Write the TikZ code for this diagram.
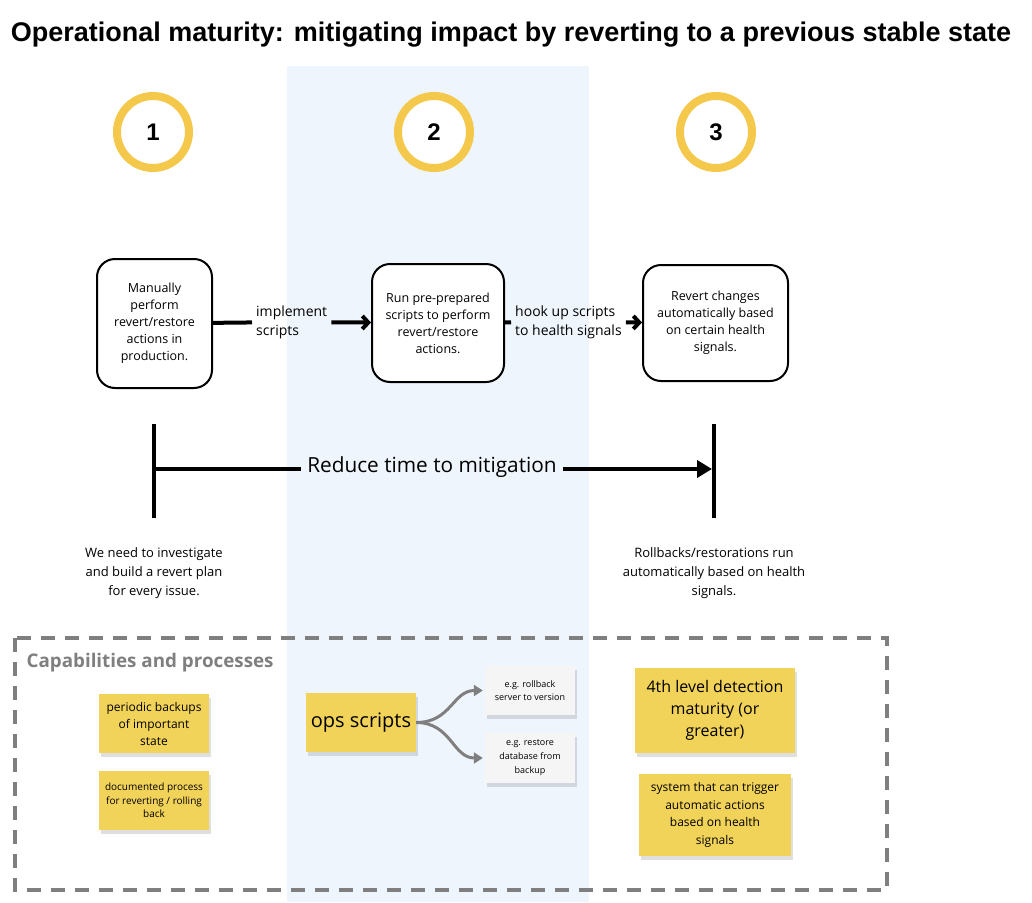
\documentclass[tikz,border=0pt]{standalone}
\usepackage{fontspec}
\setmainfont{Open Sans}
\newfontfamily\headfont{Liberation Sans}
\usetikzlibrary{arrows.meta,shadows}
\definecolor{bandblue}{HTML}{EEF5FD}
\definecolor{ringyellow}{HTML}{F4C84A}
\definecolor{noteyellow}{HTML}{F2D35A}
\definecolor{notegrey}{HTML}{F5F5F5}
\definecolor{framegrey}{HTML}{7F7F7F}
\tikzset{
	stage/.style = {draw=black, line width=2pt, rounded corners=18pt, fill=white,
		align=center, inner sep=0pt, font=\fontsize{12.5}{17}\selectfont},% rounded step box
	stepnum/.style = {circle, draw=ringyellow, line width=8pt, fill=white,
		minimum size=72pt, inner sep=0pt, font=\headfont\bfseries\fontsize{24}{24}\selectfont},
	lbl/.style = {align=left, inner sep=4pt, font=\fontsize{14}{19}\selectfont},
	conn/.style = {line width=4pt},
	chev/.style = {-{Straight Barb[length=6pt,width=13pt]}},
	note/.style = {fill=noteyellow, align=center, inner sep=0pt,
		drop shadow={shadow xshift=2pt, shadow yshift=-4pt, opacity=0.25}},% sticky note
	gnote/.style = {note, fill=notegrey},
	branch/.style = {draw=framegrey, line width=3pt, -{Triangle[length=9pt,width=11pt]}}
}
\begin{document}
\begin{tikzpicture}[x=1pt, y=-1pt]
	\useasboundingbox (0,0) rectangle (1032,902);
	\fill[bandblue] (287,66) rectangle (589,902);
	% title
	\node (title) at (511,35) {\headfont\bfseries\fontsize{27}{30}\selectfont Operational maturity: mitigating impact by reverting to a previous stable state};
	% steps
	\node [stepnum] (n1) at (153,132) {1};
	\node [stepnum] (n2) at (434,132) {2};
	\node [stepnum] (n3) at (716,132) {3};
	\node [stage, minimum width=115pt, minimum height=129pt] (st1) at (154.5,323.5)
		{Manually\\perform\\revert/restore\\actions in\\production.};
	\node [stage, minimum width=132pt, minimum height=118pt] (st2) at (438,323)
		{Run pre-prepared\\scripts to perform\\revert/restore\\actions.};
	\node [stage, minimum width=145pt, minimum height=116pt] (st3) at (715.5,323)
		{Revert changes\\automatically based\\on certain health\\signals.};
	\node [lbl, anchor=west] (impl) at (252,322) {implement\\scripts};
	\node [lbl, anchor=west] (hook) at (511,322) {hook up scripts\\to health signals};
	\draw [conn] (st1) -- (impl);
	\draw [conn, chev] (impl) -- (st2);
	\draw [conn] (st2) -- (hook);
	\draw [conn, chev] (hook) -- (st3);
	% timeline
	\draw [conn] (154,424) -- (154,518);
	\draw [conn] (714,424) -- (714,518);
	\coordinate (tA) at (154,469);
	\coordinate (tB) at (712,469);
	\node [inner sep=6pt, font=\fontsize{20.8}{24}\selectfont] (reduce) at (432,467) {Reduce time to mitigation};
	\draw [conn] (tA) -- (reduce.west |- tA);
	\draw [conn, -{Triangle[length=15pt,width=17pt]}] (reduce.east |- tB) -- (tB);
	\node [align=center, font=\fontsize{13}{19}\selectfont] (now) at (154,573)
		{We need to investigate\\and build a revert plan\\for every issue.};
	\node [align=center, font=\fontsize{13}{19}\selectfont] (goal) at (714,573)
		{Rollbacks/restorations run\\automatically based on health\\signals.};
	% capabilities
	\draw [framegrey, line width=4pt, dash pattern=on 14pt off 10pt] (15,638) rectangle (887,890);
	\node [anchor=west, text=framegrey, font=\bfseries\fontsize{18.8}{22}\selectfont] (cap) at (23,663) {Capabilities and processes};
	\node [note, minimum width=110pt, minimum height=59pt, font=\fontsize{12}{17}\selectfont] (bak) at (154,723.5)
		{periodic backups\\of important\\state};
	\node [note, minimum width=110pt, minimum height=59pt, font=\fontsize{10}{13.5}\selectfont] (doc) at (154,800.5)
		{documented process\\for reverting / rolling\\back};
	\node [note, minimum width=110pt, minimum height=59pt, font=\fontsize{20}{24}\selectfont] (ops) at (361,722.5) {ops scripts};
	\node [gnote, minimum width=90pt, minimum height=49pt, font=\fontsize{9}{13.5}\selectfont] (eg1) at (530,690.5)
		{e.g. rollback\\server to version};
	\node [gnote, minimum width=90pt, minimum height=50pt, font=\fontsize{9}{14}\selectfont] (eg2) at (530,758)
		{e.g. restore\\database from\\backup};
	\node [note, minimum width=160pt, minimum height=85pt, font=\fontsize{16}{22}\selectfont] (det) at (715,710.5)
		{4th level detection\\maturity (or\\greater)};
	\node [note, minimum width=152pt, minimum height=82pt, font=\fontsize{12}{17.5}\selectfont] (trig) at (715,815)
		{system that can trigger\\automatic actions\\based on health\\signals};
	\draw [branch] (ops.east) .. controls +(35,0) and +(-30,0) .. ([xshift=-2pt]eg1.west);
	\draw [branch] (ops.east) .. controls +(35,0) and +(-30,0) .. ([xshift=-2pt]eg2.west);
\end{tikzpicture}
\end{document}
